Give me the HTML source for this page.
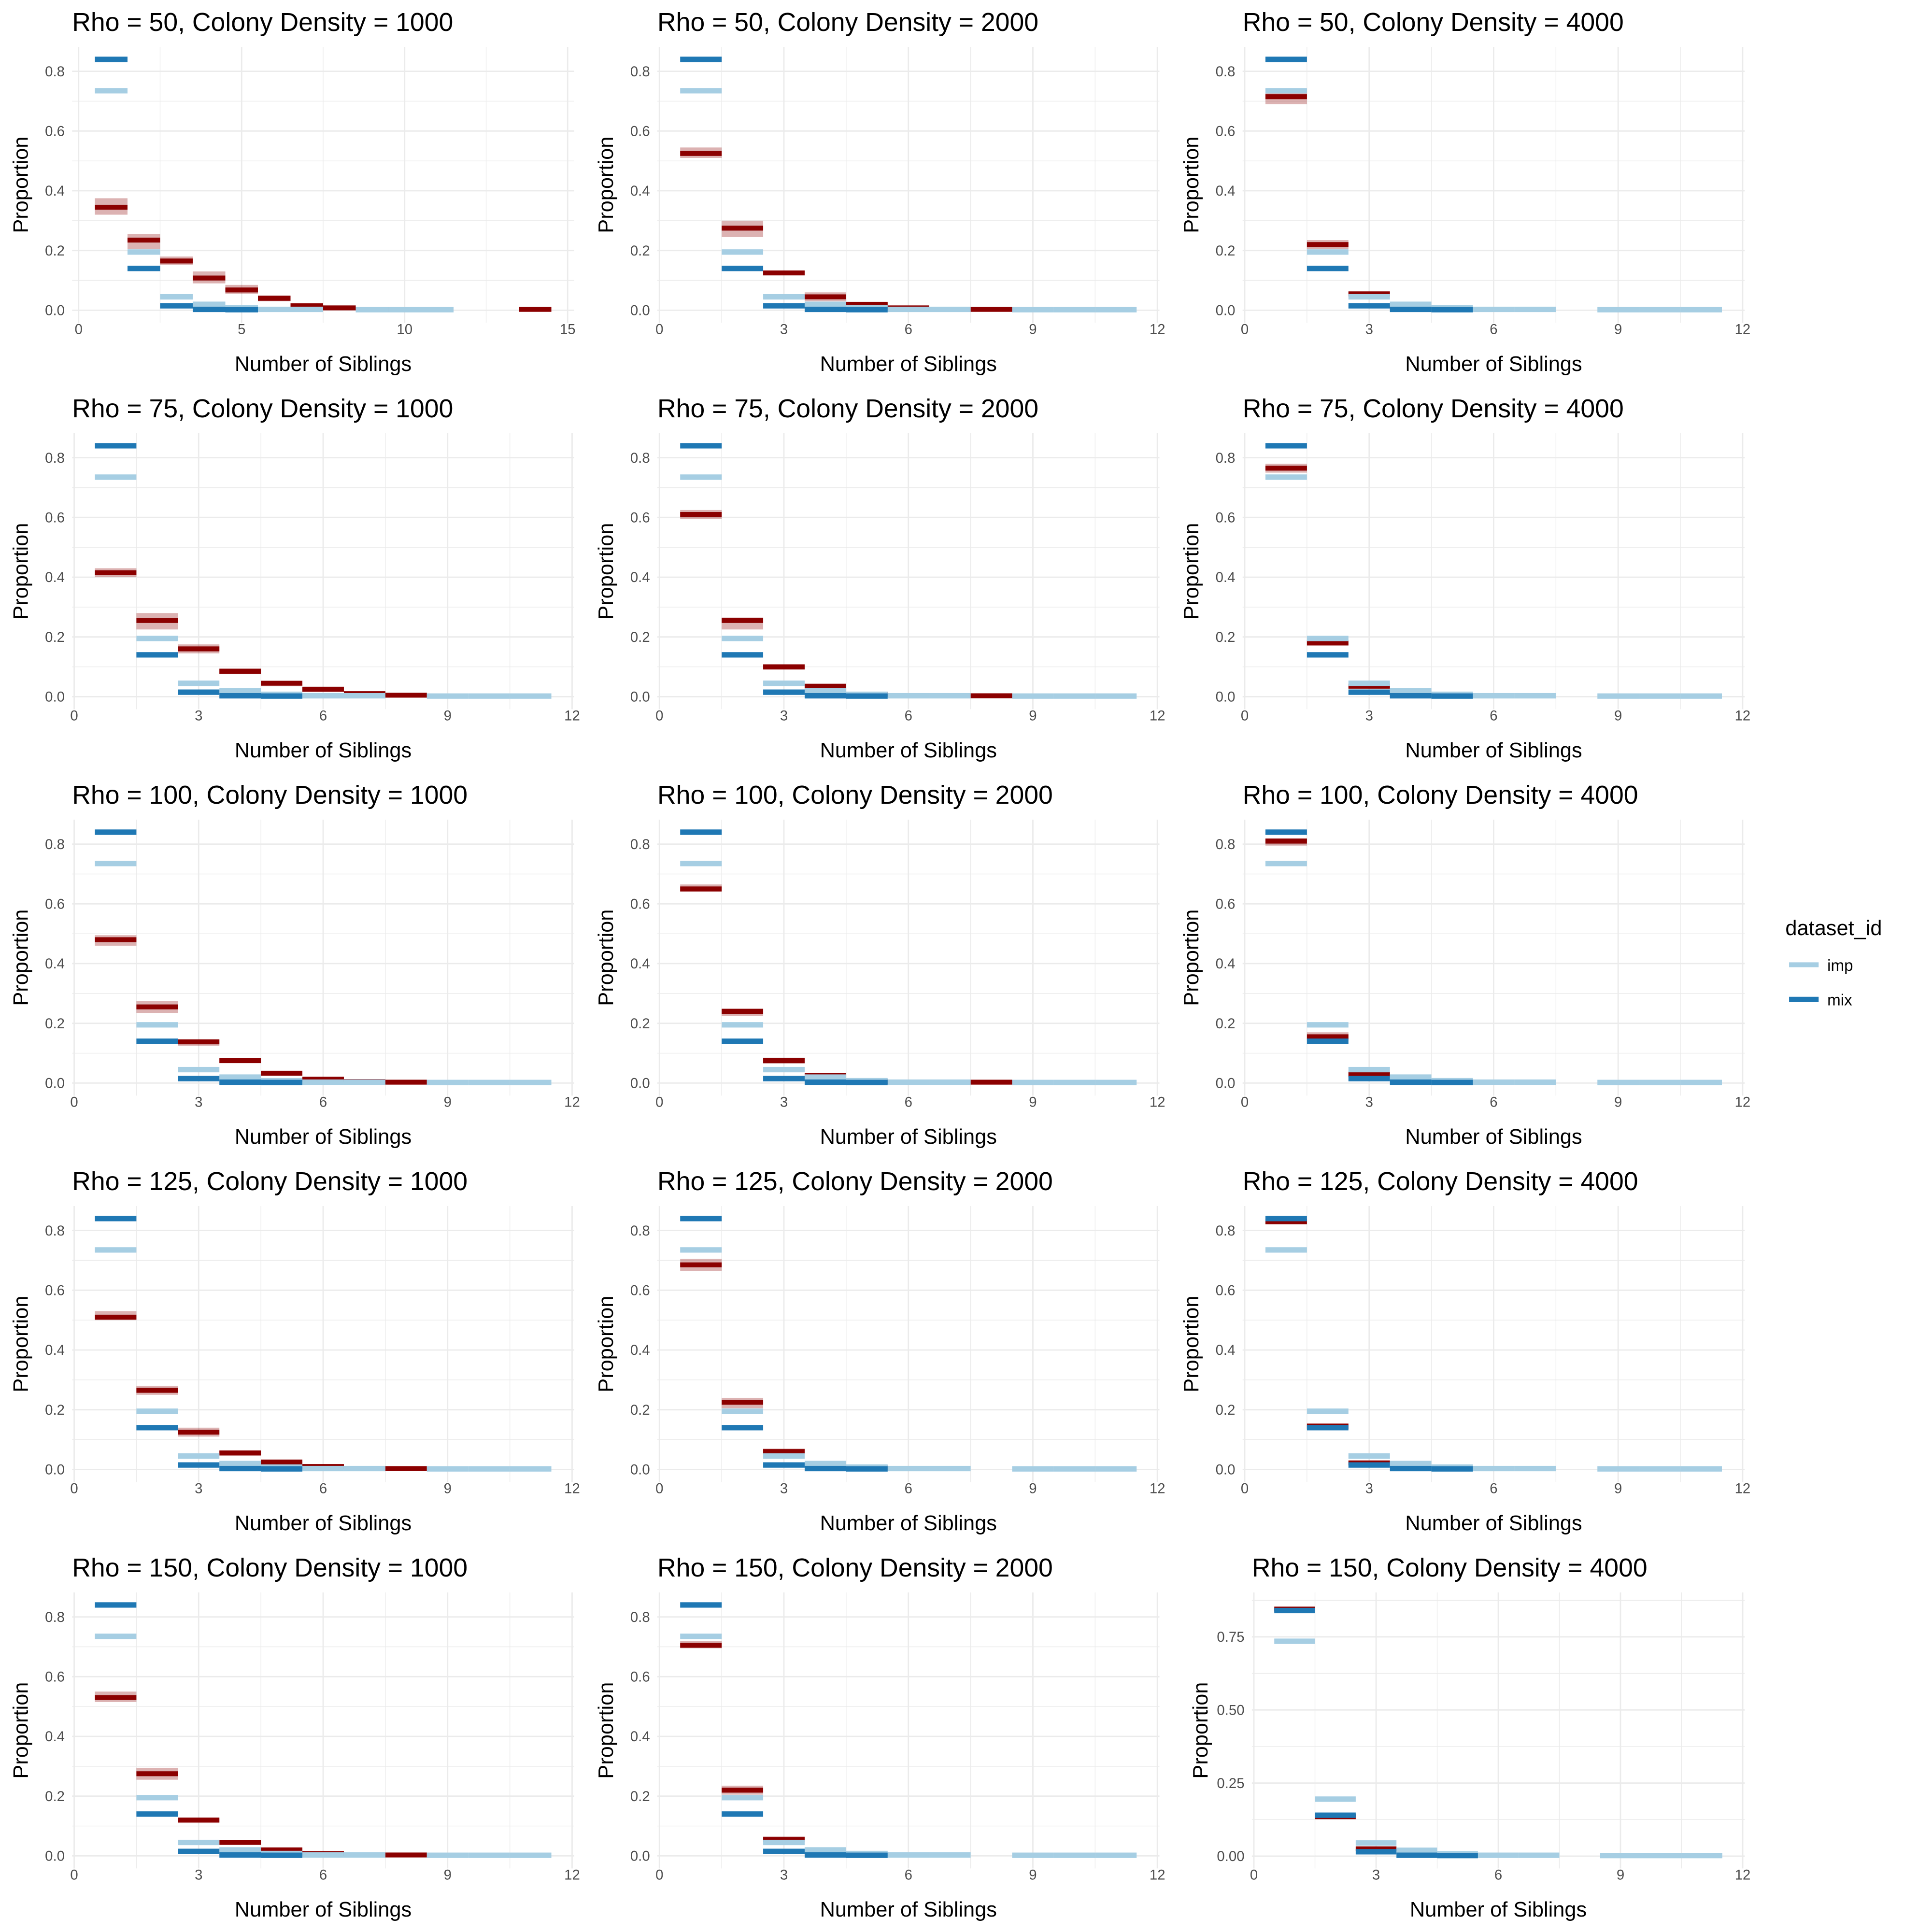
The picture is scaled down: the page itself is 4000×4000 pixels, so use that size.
<!DOCTYPE html>
<html><head><meta charset="utf-8"><style>
html,body{margin:0;padding:0;background:#fff;}
svg{display:block;font-family:"Liberation Sans",Arial,sans-serif;}
</style></head><body>
<svg id="chart" xmlns="http://www.w3.org/2000/svg" width="4000" height="4000" viewBox="0 0 1568 1568">
<rect width="1568" height="1568" fill="#fff"/>
<g id="panels"></g>
<g>
<text x="1449" y="759" font-size="17" fill="#000">dataset_id</text>
<line x1="1452" x2="1476" y1="783" y2="783" stroke="#a6cee3" stroke-width="4"/>
<text x="1483" y="788" font-size="13" fill="#000">imp</text>
<line x1="1452" x2="1476" y1="811" y2="811" stroke="#1f78b4" stroke-width="4"/>
<text x="1483" y="816" font-size="13" fill="#000">mix</text>
</g>
</svg>
<script>
const rhos=[50,75,100,125,150];
const densities=[1000,2000,4000];
const impX=[1,2,3,4,5,6,7,9,10,11];
const impY=[0.735,0.195,0.045,0.02,0.008,0.003,0.003,0.002,0.002,0.002];
const mixX=[1,2,3,4,5];
const mixY=[0.84,0.14,0.015,0.003,0.002];
const simX=[
[1,2,3,4,5,6,7,8,9,10,11,14],[1,2,3,4,5,6,8],[1,2,3,4],
[1,2,3,4,5,6,7,8],[1,2,3,4,5,8],[1,2,3,4],
[1,2,3,4,5,6,7,8],[1,2,3,4,5,8],[1,2,3],
[1,2,3,4,5,6,8],[1,2,3,4,5],[1,2,3],
[1,2,3,4,5,6,8],[1,2,3,4],[1,2,3]];
const simMean=[
[0.345,0.235,0.165,0.108,0.068,0.04,0.015,0.008,0.002,0.002,0.002,0.003],[0.525,0.275,0.125,0.045,0.02,0.008,0.003],[0.715,0.22,0.055,0.01],
[0.415,0.255,0.16,0.085,0.045,0.025,0.01,0.005],[0.61,0.255,0.1,0.035,0.008,0.003],[0.765,0.18,0.035,0.008],
[0.48,0.255,0.138,0.075,0.033,0.013,0.005,0.003],[0.65,0.24,0.075,0.025,0.005,0.003],[0.81,0.155,0.028],
[0.51,0.265,0.125,0.055,0.025,0.01,0.003],[0.685,0.225,0.06,0.015,0.005],[0.83,0.145,0.022],
[0.53,0.275,0.12,0.045,0.02,0.008,0.003],[0.705,0.22,0.055,0.01],[0.845,0.135,0.025]];
const simLo=[
[0.32,0.205,0.152,0.09,0.055,0.03,0.01,0.005,0,0,0,0],[0.51,0.245,0.118,0.03,0.015,0.005,0],[0.69,0.205,0.045,0.005],
[0.4,0.225,0.145,0.075,0.035,0.018,0.006,0.002],[0.595,0.225,0.09,0.025,0.004,0],[0.75,0.17,0.028,0.004],
[0.46,0.235,0.125,0.068,0.026,0.008,0.002,0],[0.64,0.225,0.065,0.02,0.002,0],[0.795,0.14,0.02],
[0.5,0.25,0.11,0.05,0.02,0.006,0],[0.665,0.205,0.05,0.01,0.002],[0.82,0.135,0.016],
[0.515,0.255,0.11,0.038,0.015,0.004,0],[0.695,0.205,0.05,0.006],[0.84,0.128,0.018]];
const simHi=[
[0.375,0.255,0.18,0.13,0.085,0.05,0.02,0.01,0.004,0.004,0.004,0.006],[0.545,0.3,0.132,0.06,0.025,0.01,0.005],[0.74,0.235,0.06,0.015],
[0.43,0.28,0.175,0.095,0.05,0.03,0.014,0.007],[0.625,0.265,0.105,0.04,0.012,0.005],[0.78,0.19,0.04,0.012],
[0.495,0.275,0.145,0.08,0.038,0.018,0.008,0.005],[0.665,0.25,0.085,0.03,0.008,0.005],[0.82,0.17,0.04],
[0.53,0.28,0.14,0.065,0.03,0.014,0.005],[0.705,0.24,0.07,0.02,0.008],[0.84,0.155,0.028],
[0.55,0.295,0.125,0.05,0.025,0.012,0.005],[0.72,0.235,0.065,0.014],[0.85,0.142,0.03]];
const xMaxes=[15,12,12,12,12,12,12,12,12,12,12,12,12,12,12];
const NS='http://www.w3.org/2000/svg';
const root=document.getElementById('panels');
function mk(tag,attrs,parent){const e=document.createElementNS(NS,tag);for(const k in attrs)e.setAttribute(k,attrs[k]);parent.appendChild(e);return e;}
for(let r=0;r<5;r++){for(let c=0;c<3;c++){
 const p=r*3+c;
 const last=(p===14);
 const g=mk('g',{},root);
 
 
 const left=last?1016:58.5+c*475;
 const right=1416-(2-c)*475;
 const top=38+r*313.6, bot=262+r*313.6;
 const xmax=xMaxes[p];
 const xlo=xmax===15?-0.2:-0.05, xhi=xmax===15?15.2:12.05;
 const X=v=>left+(v-xlo)/(xhi-xlo)*(right-left);
 const ylo=-0.042, yhi=last?0.902:0.882;
 const Y=v=>bot-(v-ylo)/(yhi-ylo)*(bot-top);
 const step=xmax===15?5:3;
 for(let v=0;v<=xmax;v+=step/2){const major=Math.abs(v/step-Math.round(v/step))<1e-6;
  const l=mk('line',{x1:X(v),x2:X(v),y1:top,y2:bot,stroke:'#ebebeb','stroke-width':major?1.1:0.55},g);
  }
 const ystep=last?0.25:0.2;
 for(let v=0;v<=(last?0.875:0.81);v+=ystep/2){const major=Math.abs(v/ystep-Math.round(v/ystep))<1e-6;
  const l=mk('line',{x1:left,x2:right,y1:Y(v),y2:Y(v),stroke:'#ebebeb','stroke-width':major?1.1:0.55},g);
  }
 for(let v=0;v<=xmax;v+=step){const t=mk('text',{x:X(v),y:top+233,'font-size':11.5,fill:'#4d4d4d','text-anchor':'middle'},g);t.textContent=v;
  }
 const yt=last?[0,0.25,0.5,0.75]:[0,0.2,0.4,0.6,0.8];
 for(const v of yt){const t=mk('text',{x:left-6,y:Y(v)+4,'font-size':11.5,fill:'#4d4d4d','text-anchor':'end'},g);t.textContent=v.toFixed(last?2:1);
  }
 const tt=mk('text',{x:left,y:top-13,'font-size':21,fill:'#000'},g);tt.textContent='Rho = '+rhos[r]+', Colony Density = '+densities[c];
 
 const xt=mk('text',{x:(left+right)/2,y:top+263,'font-size':17,fill:'#000','text-anchor':'middle'},g);xt.textContent='Number of Siblings';
 
 const ay=(top+bot)/2, ax=left-36;
 const yt2=mk('text',{x:ax,y:ay,'font-size':17,fill:'#000','text-anchor':'middle',transform:'rotate(-90 '+ax+' '+ay+')'},g);yt2.textContent='Proportion';
 
 simX[p].forEach((x,i)=>{const b=mk('rect',{x:X(x-0.5),width:X(x+0.5)-X(x-0.5),y:Y(simHi[p][i]),height:Math.max(1,Y(simLo[p][i])-Y(simHi[p][i])),fill:'#8b0000','fill-opacity':0.3},g);
  });
 simX[p].forEach((x,i)=>{const b=mk('rect',{x:X(x-0.5),width:X(x+0.5)-X(x-0.5),y:Y(simMean[p][i])-2,height:4,fill:'#8b0000'},g);
  });
 impX.forEach((x,i)=>{const b=mk('rect',{x:X(x-0.5),width:X(x+0.5)-X(x-0.5),y:Y(impY[i])-2.2,height:4.4,fill:'#a6cee3'},g);
  });
 mixX.forEach((x,i)=>{const b=mk('rect',{x:X(x-0.5),width:X(x+0.5)-X(x-0.5),y:Y(mixY[i])-2.2,height:4.4,fill:'#1f78b4'},g);
  });
}}
</script>
</body></html>
